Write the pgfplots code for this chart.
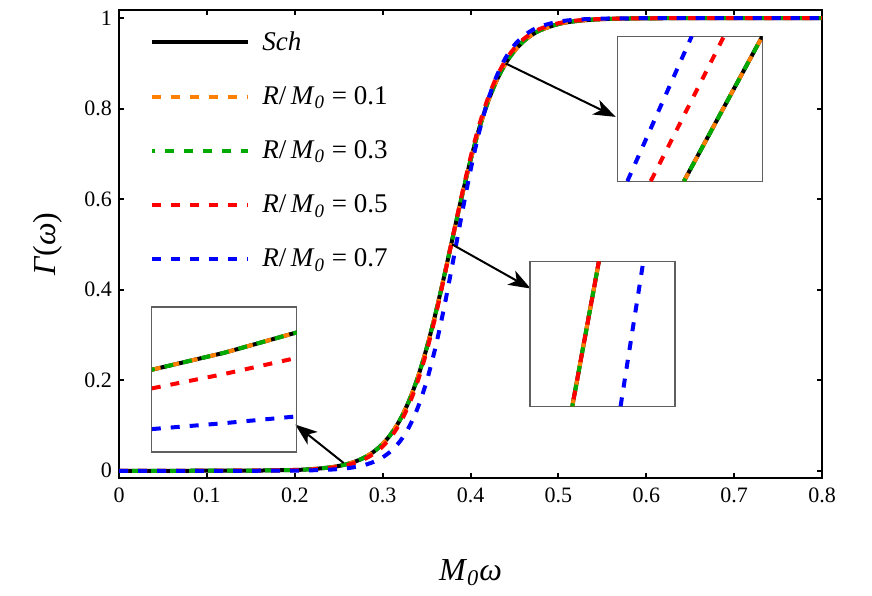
\documentclass[border=0pt]{standalone}
\usepackage{fontspec}
\setmainfont{Liberation Serif}
\usepackage{pgfplots}
\pgfplotsset{compat=1.18}
\usepackage{pgfplotstable}
\usetikzlibrary{arrows.meta}

\definecolor{mmaorange}{RGB}{255,128,0}
\definecolor{mmagreen}{RGB}{0,170,0}
\definecolor{insetgray}{RGB}{95,95,95}

% greybody factor
\pgfplotstableread{
x     sch     r1      r3      r5      r7
0.00  0.0000  0.0000  0.0000  0.0000  0.0000
0.05  0.0000  0.0000  0.0000  0.0000  0.0000
0.10  0.0001  0.0001  0.0001  0.0000  0.0000
0.15  0.0003  0.0003  0.0003  0.0002  0.0000
0.20  0.0018  0.0018  0.0018  0.0014  0.0005
0.22  0.0037  0.0037  0.0037  0.0030  0.0011
0.24  0.0074  0.0074  0.0074  0.0062  0.0025
0.25  0.0106  0.0106  0.0106  0.0090  0.0038
0.26  0.0150  0.0150  0.0150  0.0129  0.0057
0.27  0.0213  0.0213  0.0213  0.0185  0.0087
0.28  0.0300  0.0300  0.0300  0.0265  0.0131
0.29  0.0423  0.0423  0.0423  0.0379  0.0198
0.30  0.0592  0.0592  0.0592  0.0537  0.0297
0.31  0.0823  0.0823  0.0823  0.0759  0.0443
0.32  0.1133  0.1133  0.1133  0.1060  0.0657
0.33  0.1542  0.1542  0.1542  0.1462  0.0963
0.34  0.2062  0.2062  0.2062  0.1983  0.1394
0.35  0.2703  0.2703  0.2703  0.2632  0.1972
0.36  0.3457  0.3457  0.3457  0.3404  0.2715
0.37  0.4295  0.4295  0.4295  0.4270  0.3610
0.38  0.5177  0.5177  0.5177  0.5184  0.4616
0.39  0.6048  0.6048  0.6048  0.6085  0.5652
0.40  0.6857  0.6857  0.6857  0.6919  0.6635
0.41  0.7567  0.7567  0.7567  0.7643  0.7495
0.42  0.8159  0.8159  0.8159  0.8241  0.8194
0.43  0.8634  0.8634  0.8634  0.8713  0.8731
0.44  0.9001  0.9001  0.9001  0.9072  0.9126
0.45  0.9278  0.9278  0.9278  0.9338  0.9406
0.46  0.9482  0.9482  0.9482  0.9532  0.9600
0.47  0.9631  0.9631  0.9631  0.9671  0.9733
0.48  0.9738  0.9738  0.9738  0.9770  0.9822
0.50  0.9870  0.9870  0.9870  0.9888  0.9922
0.52  0.9935  0.9935  0.9935  0.9946  0.9966
0.55  0.9978  0.9978  0.9978  0.9982  0.9990
0.60  0.9996  0.9996  0.9996  0.9997  0.9999
0.70  1.0000  1.0000  1.0000  1.0000  1.0000
0.80  1.0000  1.0000  1.0000  1.0000  1.0000
}\gammadata

% zoomed windows (insets)
\pgfplotstableread{
x        sch     r5      r7
0.250    0.0106  0.0084  0.0036
0.255    0.0126  0.0101  0.0043
0.260    0.0150  0.0120  0.0051
}\zoomlow
\pgfplotstableread{
x        y
0.37597  0.486
0.37909  0.514
}\zoommidA
\pgfplotstableread{
x        y
0.38163  0.486
0.38430  0.514
}\zoommidB
\pgfplotstableread{
x        y
0.43725  0.892
0.44228  0.908
}\zoomtopA
\pgfplotstableread{
x        y
0.43512  0.892
0.43982  0.908
}\zoomtopR
\pgfplotstableread{
x        y
0.43362  0.892
0.43775  0.908
}\zoomtopB

\pgfplotsset{
  sch/.style={black, line width=2pt},
  dsh/.style={line width=2pt, dash pattern=on 4.5pt off 5pt},
  inset/.style={scale only axis, width=72.5pt, height=72.5pt, anchor=south west,
    ticks=none, axis line style={insetgray, line width=0.6pt}},
}

\begin{document}
\begin{tikzpicture}
\begin{axis}[
  name=main,
  scale only axis,
  width=351.5pt, height=234pt,
  xmin=0, xmax=0.8, ymin=-0.016, ymax=1.018,
  xtick={0,0.1,0.2,0.3,0.4,0.5,0.6,0.7,0.8},
  ytick={0,0.2,0.4,0.6,0.8,1},
  tick align=inside,
  major tick length=2.5pt,
  every tick/.style={black, line width=1pt},
  axis line style={line width=1.1pt},
  ticklabel style={font=\rmfamily\fontsize{11}{13}\selectfont},
  /pgf/number format/assume math mode=true,
  xticklabel style={yshift=-1.5pt},
  xlabel={\textit{M}\textsubscript{\itshape 0}\textit{ω}},
  ylabel={\textit{Γ}(\textit{ω})},
  label style={font=\rmfamily\fontsize{16}{19}\selectfont},
  xlabel style={at={(axis description cs:0.5,-0.203)}, anchor=center},
  ylabel style={at={(axis description cs:-0.101,0.5)}, anchor=center},
  legend style={at={(axis cs:0.0353,0.980)}, anchor=north west, draw=none, fill=none,
    font=\rmfamily\fontsize{13.5}{16}\selectfont, row sep=12.6pt, inner sep=0pt,
    /tikz/every odd column/.append style={column sep=4pt}},
  legend cell align=left,
  legend image code/.code={\draw[#1] (0pt,0pt) -- (48pt,0pt);},
]
\addplot[sch, smooth] table[x=x, y=sch] {\gammadata};
\addlegendentry{\textit{Sch}}
\addplot[dsh, mmaorange, smooth] table[x=x, y=r1] {\gammadata};
\addlegendentry{\textit{R}/\,\textit{M}\textsubscript{\itshape 0} = 0.1}
\addplot[dsh, mmagreen, dash phase=3pt, smooth] table[x=x, y=r3] {\gammadata};
\addlegendentry{\textit{R}/\,\textit{M}\textsubscript{\itshape 0} = 0.3}
\addplot[dsh, red, smooth] table[x=x, y=r5] {\gammadata};
\addlegendentry{\textit{R}/\,\textit{M}\textsubscript{\itshape 0} = 0.5}
\addplot[dsh, blue, smooth] table[x=x, y=r7] {\gammadata};
\addlegendentry{\textit{R}/\,\textit{M}\textsubscript{\itshape 0} = 0.7}

\coordinate (c1) at (axis cs:0.5675,0.6398);
\coordinate (c2) at (axis cs:0.4676,0.1425);
\coordinate (c3) at (axis cs:0.0373,0.0415);

\draw[line width=1pt, -{Stealth[length=11pt, width=8pt, inset=3pt]}]
  (axis cs:0.4399,0.900) -- (axis cs:0.5652,0.7819);
\draw[line width=1pt, -{Stealth[length=11pt, width=8pt, inset=3pt]}]
  (axis cs:0.3791,0.5001) -- (axis cs:0.4684,0.4026);
\draw[line width=1pt, -{Stealth[length=11pt, width=8pt, inset=3pt]}]
  (axis cs:0.2556,0.0173) -- (axis cs:0.2006,0.1022);
\end{axis}

% inset near Gamma = 0.9
\begin{axis}[inset, at={(c1)}, xmin=0.433, xmax=0.4423, ymin=0.892, ymax=0.908]
\addplot[sch] table {\zoomtopA};
\addplot[dsh, mmaorange] table {\zoomtopA};
\addplot[dsh, mmagreen, dash phase=3pt] table {\zoomtopA};
\addplot[dsh, red] table {\zoomtopR};
\addplot[dsh, blue] table {\zoomtopB};
\end{axis}

% inset near Gamma = 0.5
\begin{axis}[inset, at={(c2)}, xmin=0.371, xmax=0.388, ymin=0.486, ymax=0.514]
\addplot[sch] table {\zoommidA};
\addplot[dsh, mmaorange] table {\zoommidA};
\addplot[dsh, mmagreen, dash phase=3pt] table {\zoommidA};
\addplot[dsh, red, dash phase=6pt] table {\zoommidA};
\addplot[dsh, blue] table {\zoommidB};
\end{axis}

% inset near the threshold
\begin{axis}[inset, at={(c3)}, xmin=0.250, xmax=0.260, ymin=0.0009, ymax=0.0180]
\addplot[sch] table[x=x, y=sch] {\zoomlow};
\addplot[dsh, mmaorange] table[x=x, y=sch] {\zoomlow};
\addplot[dsh, mmagreen, dash phase=3pt] table[x=x, y=sch] {\zoomlow};
\addplot[dsh, red] table[x=x, y=r5] {\zoomlow};
\addplot[dsh, blue] table[x=x, y=r7] {\zoomlow};
\end{axis}

\pgfresetboundingbox
\path ([shift={(-59.5pt,-58.5pt)}]main.south west) rectangle ([shift={(25pt,5pt)}]main.north east);
\end{tikzpicture}
\end{document}
